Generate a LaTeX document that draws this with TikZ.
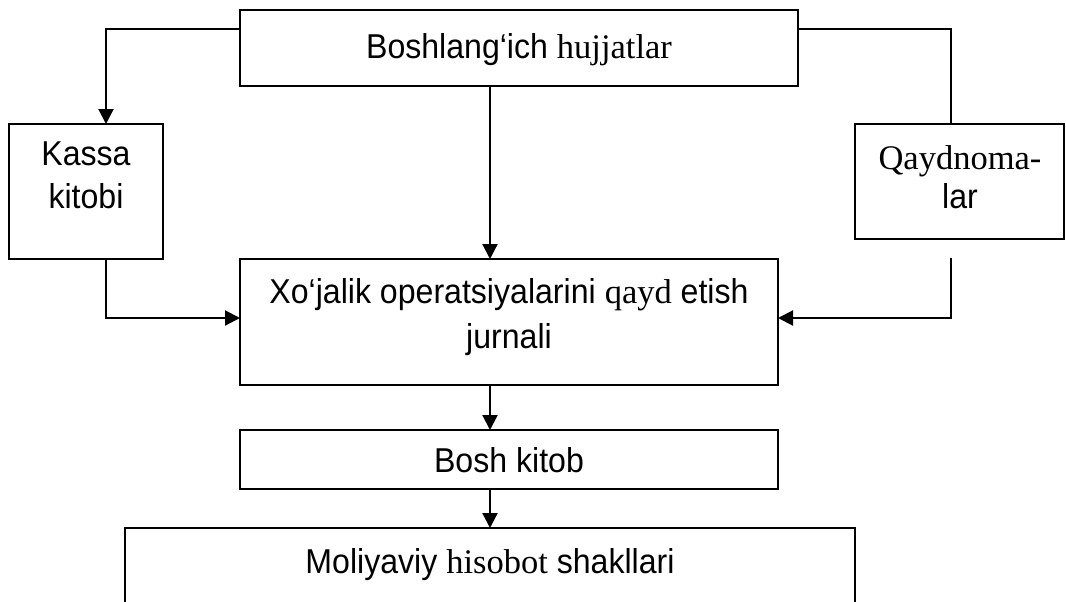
\documentclass[tikz,border=0pt]{standalone}
\usepackage{fontspec}
\setmainfont[FakeStretch=0.93]{Liberation Sans}
\newfontfamily\tnr{Liberation Serif}
\usetikzlibrary{arrows.meta}
\tikzset{
  box/.style={draw, line width=2pt, inner sep=0pt, outer sep=0pt},
  txt/.style={font=\fontsize{34.5}{43}\selectfont, align=center, inner sep=0pt},
  link/.style={line width=2.2pt},
  arr/.style={link, -{Triangle[length=15pt,width=15pt]}},
}
\begin{document}
\begin{tikzpicture}[x=1pt,y=-1pt]
\clip (0,0) rectangle (1066,602);
\fill[white] (0,0) rectangle (1066,602);
\coordinate (spine) at (490,0);

% boxes
\node[box, minimum width=558pt, minimum height=76pt]  (top)   at (519,48)     {};
\node[box, minimum width=154pt, minimum height=135pt] (kassa) at (86,191.5)   {};
\node[box, minimum width=209pt, minimum height=115pt] (qayd)  at (959.5,181.5) {};
\node[box, minimum width=538pt, minimum height=126pt] (mid)   at (509,322)    {};
\node[box, minimum width=538pt, minimum height=59pt]  (bosh)  at (509,459.5)  {};
\node[box, minimum width=730pt, minimum height=120pt] (fin)   at (490,588)    {};

% texts
\node[txt] (top-t)   at (519,50)  {Boshlang‘ich {\tnr hujjatlar}};
\node[txt] (kassa-t) at (86,175)  {Kassa\\kitobi};
\node[txt, font=\fontsize{34.5}{39}\selectfont] (qayd-t) at (960,177) {{\tnr Qaydnoma-}\\lar};
\node[txt, font=\fontsize{34.5}{45}\selectfont] (mid-t) at (509,317) {Xo‘jalik operatsiyalarini {\tnr qayd} etish\\jurnali};
\node[txt] (bosh-t)  at (509,460) {Bosh kitob};
\node[txt] (fin-t)   at (490,565) {Moliyaviy {\tnr hisobot} shakllari};

% connectors
\coordinate (qfoot) at (951,258);
\draw[arr]  ([yshift=-19pt]top.north west) -| ([xshift=20pt]kassa.north);
\draw[link] ([yshift=-19pt]top.north east) -| (qfoot |- qayd.north);
\draw[arr]  ([xshift=20pt]kassa.south) |- ([yshift=4pt]mid.west);
\draw[arr]  (qfoot) |- ([yshift=4pt]mid.east);
\draw[arr]  (top.south -| spine) -- (mid.north -| spine);
\draw[arr]  (mid.south -| spine) -- (bosh.north -| spine);
\draw[arr]  (bosh.south -| spine) -- (fin.north -| spine);
\end{tikzpicture}
\end{document}
